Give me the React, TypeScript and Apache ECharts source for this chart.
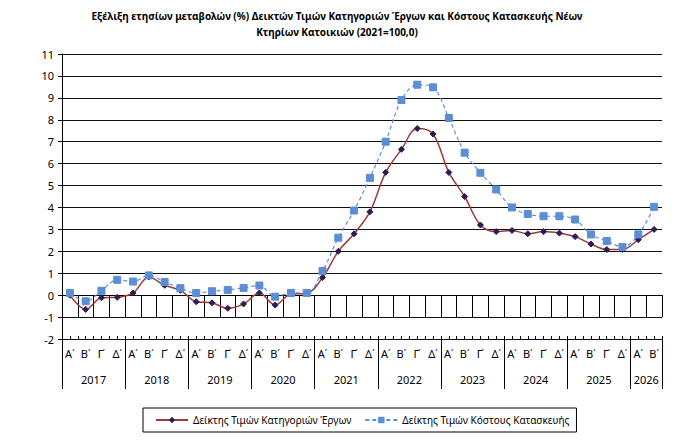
import { useEffect, useRef } from 'react';
import * as echarts from 'echarts';

// Quarter and year labels of the horizontal axis
const quarterNames = ['Α΄', 'Β΄', 'Γ΄', 'Δ΄'];
const years = ['2017', '2018', '2019', '2020', '2021', '2022', '2023', '2024', '2025', '2026'];
const quartersPerYear = [4, 4, 4, 4, 4, 4, 4, 4, 4, 2];

// Annual change (%) of the price index of works categories
const worksIndex = [
  0.0, -0.65, -0.12, -0.1, 0.1, 0.83, 0.45, 0.22, -0.3, -0.35, -0.6, -0.4, 0.1, -0.45, 0.05, 0.08,
  0.8, 2.0, 2.8, 3.8, 5.6, 6.65, 7.6, 7.35, 5.6, 4.5, 3.2, 2.9, 2.95, 2.8, 2.9, 2.83, 2.67, 2.33,
  2.08, 2.08, 2.53, 3.0,
];

// Annual change (%) of the construction cost index
const costIndex = [
  0.1, -0.28, 0.2, 0.7, 0.62, 0.9, 0.6, 0.32, 0.1, 0.18, 0.24, 0.33, 0.44, -0.07, 0.1, 0.1,
  1.1, 2.62, 3.86, 5.35, 7.0, 8.9, 9.6, 9.48, 8.08, 6.5, 5.58, 4.82, 4.0, 3.7, 3.6, 3.6, 3.45, 2.77,
  2.47, 2.2, 2.77, 4.03,
];

const yMin = -2;
const yMax = 11;

const FONT = '"Noto Sans", sans-serif';

export default function App() {
  const ref = useRef<HTMLDivElement>(null);

  useEffect(() => {
    if (!ref.current) return;
    document.body.style.margin = '0';
    const chart = echarts.init(ref.current, undefined, { renderer: 'svg' });

    const quarterCats: string[] = [];
    quartersPerYear.forEach((n) => {
      for (let q = 0; q < n; q++) quarterCats.push(quarterNames[q]);
    });

    // Year axis works in half-quarter steps so that year labels sit centred on their group
    const halfSteps = quarterCats.length * 2;
    const yearCats: string[] = new Array(halfSteps + 1).fill('');
    const yearBounds = new Set<number>([0]);
    let pos = 0;
    quartersPerYear.forEach((n, i) => {
      yearCats[pos + n] = years[i];
      pos += n * 2;
      yearBounds.add(pos);
    });
    const halfCats: string[] = new Array(halfSteps + 1).fill('');

    const titleStyle = {
      fontFamily: FONT,
      fontSize: 10,
      fontWeight: 'bold',
      fill: '#000',
      textAlign: 'center',
      textVerticalAlign: 'middle',
    };

    chart.setOption({
      animation: false,
      backgroundColor: '#ffffff',
      textStyle: { fontFamily: FONT },
      graphic: [
        {
          type: 'text',
          x: 337,
          y: 16,
          style: {
            ...titleStyle,
            text: 'Εξέλιξη ετησίων μεταβολών (%) Δεικτών Τιμών Κατηγοριών Έργων και Κόστους Κατασκευής Νέων',
          },
        },
        {
          type: 'text',
          x: 337,
          y: 32,
          style: { ...titleStyle, text: 'Κτηρίων Κατοικιών (2021=100,0)' },
        },
      ],
      legend: {
        left: 143,
        top: 408,
        padding: [7, 7, 7, 12],
        borderColor: '#000',
        borderWidth: 1,
        itemWidth: 32,
        itemHeight: 8,
        itemGap: 13,
        textStyle: { fontFamily: FONT, fontSize: 10, color: '#000' },
        data: ['Δείκτης Τιμών Κατηγοριών Έργων', 'Δείκτης Τιμών Κόστους Κατασκευής'],
      },
      grid: { left: 62, right: 28, top: 54, bottom: 101 },
      xAxis: [
        {
          type: 'category',
          position: 'bottom',
          data: quarterCats,
          boundaryGap: true,
          axisLine: { show: true, lineStyle: { color: '#000', width: 1 } },
          axisTick: { show: true, interval: 0, length: 22, lineStyle: { color: '#000' } },
          axisLabel: { interval: 0, margin: 9, fontFamily: FONT, fontSize: 11, color: '#000' },
          splitLine: { show: false },
        },
        {
          type: 'category',
          position: 'bottom',
          data: yearCats,
          boundaryGap: false,
          axisLine: { show: false },
          axisTick: {
            show: true,
            length: 50,
            interval: (i: number) => yearBounds.has(i),
            lineStyle: { color: '#000' },
          },
          axisLabel: {
            interval: 0,
            margin: 35,
            fontFamily: FONT,
            fontSize: 11,
            color: '#000',
          },
          splitLine: { show: false },
        },
        {
          type: 'category',
          position: 'bottom',
          data: halfCats,
          boundaryGap: false,
          axisLine: { show: false },
          axisTick: { show: true, inside: true, length: 3, interval: 0, lineStyle: { color: '#000' } },
          axisLabel: { show: false },
          splitLine: { show: false },
        },
      ],
      yAxis: {
        type: 'value',
        min: yMin,
        max: yMax,
        interval: 1,
        axisLine: { show: true, lineStyle: { color: '#000', width: 1 } },
        axisTick: { show: true, length: 4, lineStyle: { color: '#000' } },
        axisLabel: { margin: 8, fontFamily: FONT, fontSize: 11, color: '#000' },
        splitLine: { show: true, lineStyle: { color: '#111', width: 1 } },
      },
      series: [
        {
          name: 'Δείκτης Τιμών Κατηγοριών Έργων',
          type: 'line',
          xAxisIndex: 0,
          data: worksIndex,
          smooth: 0.35,
          symbol: 'diamond',
          symbolSize: 6,
          lineStyle: { color: '#9E3A3A', width: 1.5 },
          itemStyle: { color: '#2E1D52', borderColor: '#2E1D52' },
          z: 3,
        },
        {
          name: 'Δείκτης Τιμών Κόστους Κατασκευής',
          type: 'line',
          xAxisIndex: 0,
          data: costIndex,
          smooth: 0.35,
          symbol: 'rect',
          symbolSize: 7,
          lineStyle: { color: '#5B8ED4', width: 1.2, type: [4, 3] },
          itemStyle: { color: '#5B8ED4', borderColor: '#5B8ED4' },
          z: 4,
        },
      ],
    });

    return () => chart.dispose();
  }, []);

  return <div ref={ref} style={{ width: 690, height: 440 }} />;
}
